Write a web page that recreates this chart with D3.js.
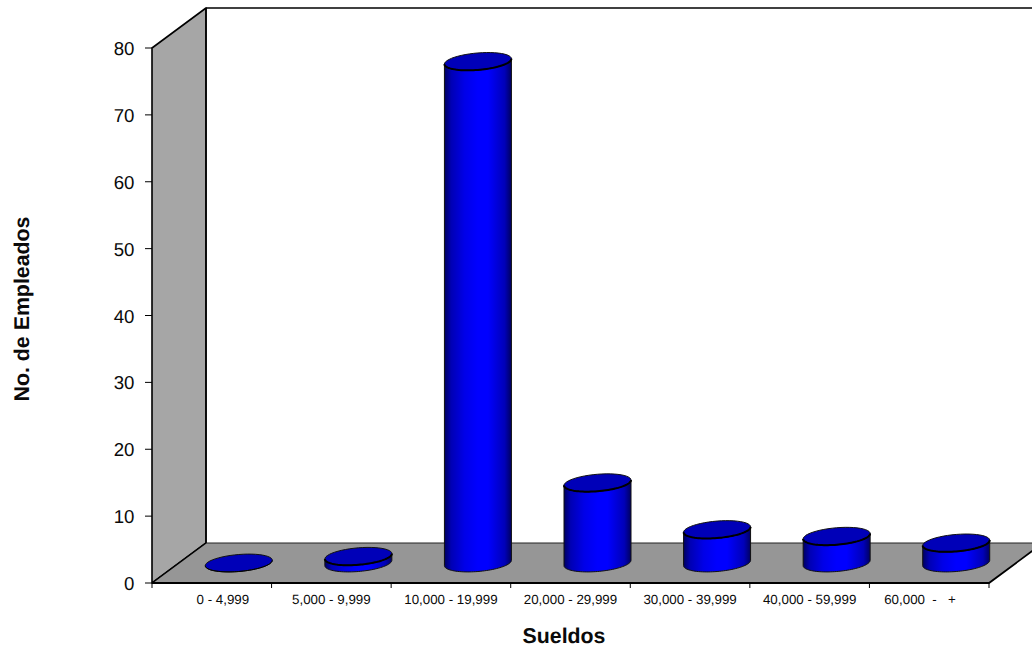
<!DOCTYPE html>
<html><head><meta charset="utf-8">
<script src="https://cdn.jsdelivr.net/npm/d3@7"></script>
<style>html,body{margin:0;padding:0;background:#fff;overflow:hidden}svg{display:block}text{font-family:"Liberation Sans",Arial,sans-serif;fill:#0a0a0a;text-rendering:geometricPrecision;white-space:pre}</style>
</head><body><script>
const categories = ["      0 - 4,999","5,000 - 9,999","10,000 - 19,999","20,000 - 29,999","30,000 - 39,999","40,000 - 59,999","60,000  -   +     "];
const values = [0,1,75,12,5,4,3];
const yTicks = [0,10,20,30,40,50,60,70,80];
const xTitle = "Sueldos", yTitle = "No. de Empleados";

const W=1032,H=648;
const svg=d3.select("body").append("svg").attr("width",W).attr("height",H);
const x=d3.scaleBand().domain(categories).range([152,989]);
const y=d3.scaleLinear().domain([0,80]).range([583,48]);
const dx=54,dy=-40;
const [y0,y80]=y.range();
const [xl,xr]=x.range();

const defs=svg.append("defs");
const g=defs.append("linearGradient").attr("id","cyl").attr("x1",0).attr("x2",1).attr("y1",0).attr("y2",0);
[[0,"#000060"],[.1,"#0000b4"],[.3,"#0000e8"],[.5,"#0000ff"],[.65,"#0000ff"],[.9,"#0000b8"],[1,"#000060"]].forEach(d=>g.append("stop").attr("offset",d[0]).attr("stop-color",d[1]));

// walls
svg.append("path").attr("d",`M${xl},${y0}L${xl},${y80}L${xl+dx},${y80+dy}L${xl+dx},${y0+dy}Z`).attr("fill","#a6a6a6").attr("stroke","#000").attr("stroke-width",1.6).attr("stroke-linejoin","round");
svg.append("path").attr("d",`M${xl},${y0}L${xr},${y0}L${xr+dx},${y0+dy}L${xl+dx},${y0+dy}Z`).attr("fill","#969696").attr("stroke","none");
svg.append("path").attr("d",`M${xl+dx},${y0+dy}L${xr+dx},${y0+dy}`).attr("stroke","#222").attr("stroke-width",1).attr("fill","none");
svg.append("path").attr("d",`M${xl},${y0}L${xl+dx},${y0+dy}`).attr("stroke","#000").attr("stroke-width",1.4);
svg.append("path").attr("d",`M${xr+dx},${y0+dy}L${xr},${y0}L${xl},${y0}`).attr("stroke","#000").attr("stroke-width",1.8).attr("fill","none");
svg.append("path").attr("d",`M${xl+dx},${y80+dy}L${W},${y80+dy}`).attr("stroke","#000").attr("stroke-width",1.6);
svg.append("path").attr("d",`M${xl+dx},${y80+dy}L${xl+dx},${y0+dy}`).attr("stroke","#000").attr("stroke-width",1.4);

// axes ticks
svg.selectAll(".yt").data(yTicks).join("line").attr("x1",145).attr("x2",xl).attr("y1",d=>y(d)).attr("y2",d=>y(d)).attr("stroke","#000").attr("stroke-width",1);
svg.selectAll(".yl").data(yTicks).join("text").attr("x",134.5).attr("y",d=>y(d)+7).attr("text-anchor","end").attr("font-size",18.67).text(d=>d);
const edges=[...categories.map(c=>x(c)),xr];
svg.selectAll(".xt").data(edges).join("line").attr("x1",d=>d).attr("x2",d=>d).attr("y1",y0).attr("y2",y0+5).attr("stroke","#000").attr("stroke-width",1);
svg.selectAll(".xl").data(categories).join("text").attr("x",d=>x(d)+x.bandwidth()/2).attr("y",604).attr("text-anchor","middle").attr("font-size",13.33).attr("xml:space","preserve").text(d=>d);
svg.append("text").attr("x",564).attr("y",643.3).attr("text-anchor","middle").attr("font-size",21.33).attr("font-weight","bold").text(xTitle);
svg.append("text").attr("transform","translate(29,309) rotate(-90)").attr("text-anchor","middle").attr("font-size",21.33).attr("font-weight","bold").text(yTitle);

// cylinders
const A=33.5,B=2.7,C=8.5;
const pt=(cx,cy,t)=>[cx+A*Math.cos(t),cy-B*Math.cos(t)+C*Math.sin(t)];
const line=d3.line();
const arc=(cx,cy,t0,t1)=>d3.range(0,49).map(i=>pt(cx,cy,t0+(t1-t0)*i/48));
const bars=svg.selectAll(".bar").data(categories).join("g");
bars.each(function(c,i){
  const gg=d3.select(this);
  const cx=x(c)+x.bandwidth()/2+dx/2, base=y(0)+dy/2, top=y(values[i])+dy/2;
  if(values[i]>0){
    const low=arc(cx,base,0,Math.PI);
    const up=arc(cx,top,Math.PI,0);
    gg.append("path").attr("d",line(low.concat(up))+"Z").attr("fill","url(#cyl)").attr("stroke","#111").attr("stroke-width",1);
  }
  gg.append("path").attr("d",line(arc(cx,top,0,2*Math.PI))+"Z").attr("fill","#0000b8").attr("stroke","#111").attr("stroke-width",1);
  gg.append("path").attr("d",line(arc(cx,top,0,Math.PI))).attr("fill","none").attr("stroke","#000").attr("stroke-width",values[i]>0?2:1);
});
</script></body></html>
